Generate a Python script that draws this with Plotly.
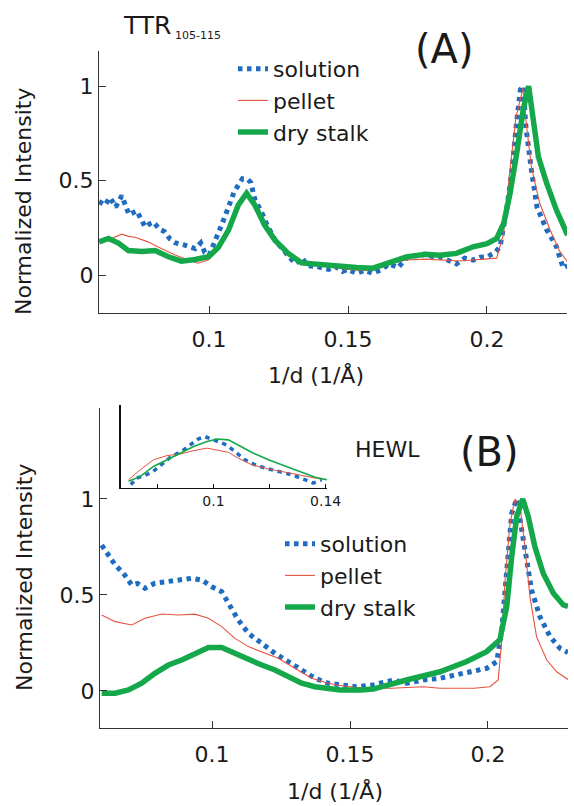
import plotly.graph_objects as go

# ---------------- data ----------------
# Panel A (TTR105-115)
a_sol_x = [0.0604, 0.0625, 0.0644, 0.0664, 0.0686, 0.0700, 0.0712, 0.0740, 0.0755, 0.0770, 0.0785, 0.0800,
           0.0820, 0.0840, 0.0860, 0.0880, 0.0910, 0.0935, 0.0950, 0.0970, 0.0985, 0.1000, 0.1020, 0.1045,
           0.1070, 0.1090, 0.1120, 0.1140, 0.1150, 0.1165, 0.1190, 0.1210, 0.1240, 0.1270, 0.1310, 0.1335,
           0.1355, 0.1390, 0.1430, 0.1455, 0.1480, 0.1500, 0.1530, 0.1560, 0.1590, 0.1620, 0.1650, 0.1680,
           0.1710, 0.1730, 0.1760, 0.1780, 0.1800, 0.1830, 0.1860, 0.1890, 0.1920, 0.1950, 0.1975, 0.2000,
           0.2030, 0.2047, 0.2070, 0.2090, 0.2105, 0.2120, 0.2130, 0.2140, 0.2160, 0.2180, 0.2200, 0.2215,
           0.2235, 0.2250, 0.2265, 0.2275, 0.2290]
a_sol_y = [0.39, 0.37, 0.41, 0.36, 0.42, 0.37, 0.32, 0.34, 0.30, 0.255, 0.27, 0.28,
           0.245, 0.23, 0.19, 0.17, 0.16, 0.15, 0.14, 0.17, 0.12, 0.105, 0.17, 0.265,
           0.36, 0.44, 0.51, 0.505, 0.49, 0.40, 0.33, 0.26, 0.18, 0.13, 0.06, 0.09,
           0.05, 0.045, 0.03, 0.045, 0.02, 0.03, 0.01, 0.025, 0.01, 0.03, 0.06, 0.04,
           0.09, 0.105, 0.10, 0.115, 0.10, 0.097, 0.08, 0.06, 0.09, 0.08, 0.095, 0.097,
           0.12, 0.15, 0.34, 0.555, 0.785, 0.98, 1.0, 0.785, 0.555, 0.36, 0.29, 0.24,
           0.19, 0.15, 0.08, 0.037, 0.05]

a_pel_x = [0.0604, 0.0650, 0.0686, 0.0710, 0.0734, 0.0780, 0.0830, 0.0880, 0.0925, 0.0960, 0.0997, 0.1030,
           0.1070, 0.1105, 0.1135, 0.1165, 0.1200, 0.1237, 0.1285, 0.1333, 0.1430, 0.1500, 0.1560, 0.1600,
           0.1650, 0.1710, 0.1780, 0.1830, 0.1900, 0.1950, 0.2035, 0.2060, 0.2080, 0.2105, 0.2130, 0.2140,
           0.2160, 0.2190, 0.2227, 0.2260, 0.2290]
a_pel_y = [0.185, 0.195, 0.217, 0.205, 0.20, 0.176, 0.14, 0.105, 0.08, 0.063, 0.08, 0.13,
           0.255, 0.38, 0.433, 0.38, 0.275, 0.185, 0.105, 0.07, 0.044, 0.03, 0.025, 0.035,
           0.06, 0.08, 0.085, 0.08, 0.075, 0.08, 0.09, 0.22, 0.52, 0.84, 0.99, 0.82,
           0.57, 0.38, 0.24, 0.13, 0.07]

a_dry_x = [0.0604, 0.0638, 0.0674, 0.0710, 0.0758, 0.0806, 0.0854, 0.0900, 0.0950, 0.0998, 0.1033, 0.1070,
           0.1105, 0.1135, 0.1165, 0.1200, 0.1237, 0.1285, 0.1333, 0.1430, 0.1480, 0.1530, 0.1590, 0.1650,
           0.1710, 0.1780, 0.1830, 0.1890, 0.1950, 0.2000, 0.2035, 0.2060, 0.2083, 0.2107, 0.2130, 0.2150,
           0.2167, 0.2185, 0.2215, 0.2250, 0.2290]
a_dry_y = [0.176, 0.194, 0.17, 0.13, 0.125, 0.13, 0.097, 0.074, 0.083, 0.097, 0.146, 0.238,
           0.37, 0.433, 0.37, 0.265, 0.185, 0.115, 0.065, 0.05, 0.045, 0.04, 0.037, 0.07,
           0.097, 0.11, 0.105, 0.115, 0.15, 0.167, 0.194, 0.273, 0.432, 0.644, 0.873, 1.0,
           0.838, 0.626, 0.485, 0.344, 0.212]

# Panel B (HEWL)
b_sol_x = [0.0600, 0.0624, 0.0649, 0.0679, 0.0709, 0.0730, 0.0757, 0.0793, 0.0842, 0.0890, 0.0926, 0.0963,
           0.0999, 0.1035, 0.1059, 0.1095, 0.1132, 0.1180, 0.1228, 0.1276, 0.1325, 0.1373, 0.1421, 0.1476,
           0.1520, 0.1584, 0.1657, 0.1705, 0.1766, 0.1826, 0.1887, 0.1947, 0.1995, 0.2032, 0.2050, 0.2062,
           0.2074, 0.2086, 0.2104, 0.2122, 0.2140, 0.2158, 0.2188, 0.2225, 0.2261, 0.2290]
b_sol_y = [0.76, 0.708, 0.656, 0.613, 0.552, 0.56, 0.535, 0.561, 0.569, 0.578, 0.587, 0.578,
           0.543, 0.517, 0.457, 0.37, 0.30, 0.248, 0.196, 0.153, 0.109, 0.066, 0.04, 0.031,
           0.022, 0.031, 0.057, 0.04, 0.057, 0.066, 0.083, 0.10, 0.118, 0.153, 0.318, 0.526,
           0.751, 0.925, 1.0, 0.839, 0.665, 0.526, 0.387, 0.283, 0.222, 0.20]

b_pel_x = [0.0600, 0.0649, 0.0709, 0.0757, 0.0818, 0.0878, 0.0938, 0.0987, 0.1035, 0.1083, 0.1132, 0.1180,
           0.1240, 0.1300, 0.1361, 0.1421, 0.1476, 0.1550, 0.1650, 0.1766, 0.1826, 0.1950, 0.2007, 0.2037,
           0.2050, 0.2062, 0.2080, 0.2098, 0.2116, 0.2134, 0.2152, 0.2176, 0.2213, 0.2249, 0.2290]
b_pel_y = [0.396, 0.361, 0.344, 0.379, 0.401, 0.396, 0.40, 0.379, 0.335, 0.274, 0.231, 0.205,
           0.17, 0.118, 0.066, 0.04, 0.026, 0.014, 0.014, 0.022, 0.014, 0.014, 0.022, 0.057,
           0.266, 0.578, 0.873, 1.0, 0.96, 0.751, 0.491, 0.283, 0.161, 0.10, 0.06]

b_dry_x = [0.0600, 0.0649, 0.0697, 0.0745, 0.0793, 0.0842, 0.0890, 0.0938, 0.0987, 0.1035, 0.1083, 0.1132,
           0.1180, 0.1228, 0.1276, 0.1325, 0.1373, 0.1464, 0.1540, 0.1584, 0.1705, 0.1826, 0.1923, 0.1995,
           0.2043, 0.2068, 0.2086, 0.2104, 0.2126, 0.2146, 0.2170, 0.2200, 0.2237, 0.2273, 0.2290]
b_dry_y = [-0.012, -0.012, 0.005, 0.04, 0.092, 0.135, 0.161, 0.196, 0.226, 0.226, 0.196, 0.161,
           0.135, 0.109, 0.074, 0.04, 0.022, 0.005, 0.005, 0.01, 0.057, 0.10, 0.153, 0.205,
           0.266, 0.439, 0.70, 0.908, 1.0, 0.908, 0.751, 0.613, 0.509, 0.448, 0.44]

# Inset of panel B (arbitrary units)
in_sol_x = [0.0705, 0.0726, 0.0755, 0.0785, 0.0814, 0.0850, 0.0886, 0.0915, 0.0945, 0.0969, 0.0993, 0.1017,
            0.1046, 0.1076, 0.1112, 0.1148, 0.1183, 0.1231, 0.1279, 0.1326, 0.1356, 0.1386]
in_sol_y = [0.04, 0.12, 0.15, 0.20, 0.28, 0.38, 0.44, 0.52, 0.59, 0.62, 0.59, 0.56,
            0.52, 0.44, 0.34, 0.28, 0.24, 0.20, 0.16, 0.10, 0.06, 0.10]
in_pel_x = [0.0697, 0.0739, 0.0786, 0.0834, 0.0882, 0.0929, 0.0977, 0.1013, 0.1053, 0.1088, 0.1136, 0.1196,
            0.1255, 0.1315, 0.1363, 0.1405]
in_pel_y = [0.10, 0.22, 0.34, 0.39, 0.41, 0.45, 0.48, 0.46, 0.43, 0.36, 0.28, 0.23,
            0.19, 0.15, 0.12, 0.10]
in_dry_x = [0.0697, 0.0739, 0.0786, 0.0834, 0.0882, 0.0929, 0.0977, 0.1013, 0.1053, 0.1088, 0.1136, 0.1196,
            0.1255, 0.1315, 0.1363, 0.1405]
in_dry_y = [0.08, 0.14, 0.26, 0.34, 0.42, 0.50, 0.56, 0.59, 0.58, 0.52, 0.43, 0.34,
            0.27, 0.19, 0.13, 0.10]

series_names = ["solution", "pellet", "dry stalk"]
x_ticks = [0.1, 0.15, 0.2]
x_ticktext = ["0.1", "0.15", "0.2"]
y_ticks = [0, 0.5, 1]
y_ticktext = ["0", "0.5", "1"]
inset_ticks = [0.08, 0.1, 0.12, 0.14]
inset_ticktext = ["", "0.1", "", "0.14"]

# ---------------- style ----------------
REF_W, REF_H = 574, 806     # reference picture size (positions below are read in these pixels)
W, H = 588, 806             # figure size in page pixels (the capture is slightly narrower horizontally)
FONT = "DejaVu Sans"
BLUE = "#1f6cc0"
RED = "#e5533f"
GREEN = "#14a84b"
AXC = "#333333"


def px(x):
    """reference pixel x -> paper fraction"""
    return min(1.0, max(0.0, x / REF_W))


def py(y):
    """reference pixel y -> paper fraction"""
    return min(1.0, max(0.0, 1 - y / REF_H))


fig = go.Figure()


def add_panel(xs, ys, xa, ya, legend, show, widths):
    styles = [dict(color=BLUE, width=widths[0], dash="4.5px,4.5px"),
              dict(color=RED, width=widths[1]),
              dict(color=GREEN, width=widths[2])]
    for name, x, y, st in zip(series_names, xs, ys, styles):
        fig.add_trace(go.Scatter(x=x, y=y, mode="lines", name=name, line=st,
                                 xaxis=xa, yaxis=ya, legend=legend, showlegend=show))


add_panel([a_sol_x, a_pel_x, a_dry_x], [a_sol_y, a_pel_y, a_dry_y], "x", "y", "legend", True, [5, 1.1, 5.5])
add_panel([b_sol_x, b_pel_x, b_dry_x], [b_sol_y, b_pel_y, b_dry_y], "x2", "y2", "legend2", True, [5, 1.1, 5.5])
add_panel([in_sol_x, in_pel_x, in_dry_x], [in_sol_y, in_pel_y, in_dry_y], "x3", "y3", "legend", False, [3.5, 1, 1.6])

tickfont = dict(family=FONT, size=22, color="#1a1a1a")
common_x = dict(showgrid=False, zeroline=False, showline=True, linecolor=AXC, linewidth=1.3,
                ticks="inside", ticklen=7, tickwidth=1.2, tickcolor=AXC, tickfont=tickfont,
                tickvals=x_ticks, ticktext=x_ticktext, ticklabelstandoff=6)
common_y = dict(showgrid=False, zeroline=False, showline=True, linecolor=AXC, linewidth=1.3,
                ticks="inside", ticklen=7, tickwidth=1.2, tickcolor=AXC, tickfont=tickfont)

fig.update_layout(
    width=W, height=H, autosize=False,
    margin=dict(l=0, r=0, t=0, b=0),
    paper_bgcolor="white", plot_bgcolor="rgba(0,0,0,0)",
    font=dict(family=FONT, size=22, color="#1a1a1a"),
    xaxis=dict(common_x, domain=[px(99), px(567)], range=[0.0604, 0.2288], anchor="y"),
    yaxis=dict(common_y, domain=[py(313), py(51)], range=[-0.2, 1.185], anchor="x",
               tickvals=y_ticks, ticktext=y_ticktext),
    xaxis2=dict(common_x, domain=[px(100), px(568)], range=[0.0594, 0.2290], anchor="y2"),
    yaxis2=dict(common_y, domain=[py(728), py(408)], range=[-0.193, 1.474], anchor="x2",
                tickvals=y_ticks + [1.47], ticktext=y_ticktext + [""]),
    xaxis3=dict(showgrid=False, zeroline=False, showline=True, linecolor="#111", linewidth=1.3,
                ticks="inside", ticklen=4, tickwidth=1, tickcolor="#111",
                tickfont=dict(family=FONT, size=14, color="#1a1a1a"),
                tickvals=inset_ticks, ticktext=inset_ticktext,
                domain=[px(121), px(327)], range=[0.067, 0.1405], anchor="y3"),
    yaxis3=dict(showgrid=False, zeroline=False, showline=True, linecolor="#111", linewidth=2,
                ticks="", showticklabels=False,
                domain=[py(488), py(405)], range=[0, 1], anchor="x3"),
    legend=dict(x=px(233), y=py(48), xanchor="left", yanchor="top", bgcolor="rgba(0,0,0,0)",
                font=dict(family=FONT, size=22, color="#1a1a1a"), tracegroupgap=0),
    legend2=dict(x=px(280), y=py(523), xanchor="left", yanchor="top", bgcolor="rgba(0,0,0,0)",
                 font=dict(family=FONT, size=22, color="#1a1a1a"), tracegroupgap=0),
    showlegend=True,
)


def ann(text, x, y, size, xanchor="left", angle=0):
    fig.add_annotation(text=text, x=px(x), y=py(y), xref="paper", yref="paper",
                       xanchor=xanchor, yanchor="middle", showarrow=False, textangle=angle,
                       font=dict(family=FONT, size=size, color="#1a1a1a"))


ann("TTR", 121, 25, 25)
ann("105-115", 173, 35, 11)
ann("(A)", 413, 49, 40)
ann("HEWL", 353, 449, 22)
ann("(B)", 458, 452, 40)
ann("1/d (1/Å)", 316, 375, 22, xanchor="center")
ann("1/d (1/Å)", 335, 791, 22, xanchor="center")
ann("Normalized Intensity", 24, 201, 22, xanchor="center", angle=-90)
ann("Normalized Intensity", 24, 577, 22, xanchor="center", angle=-90)

# remove the default page margin so the figure starts at the window's corner
fig.write_html("out.html", config={"displayModeBar": False},
               post_script="document.body.style.margin='0px';document.body.style.overflow='hidden';")
